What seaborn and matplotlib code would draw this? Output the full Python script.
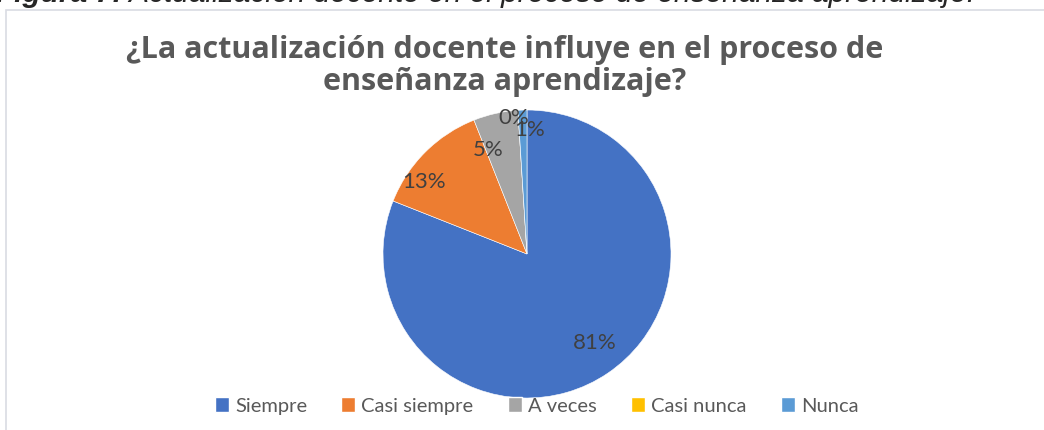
import numpy as np
import matplotlib
matplotlib.use("Agg")
import matplotlib.pyplot as plt
from matplotlib.patches import Rectangle
import seaborn as sns

# data
categories = ["Siempre", "Casi siempre", "A veces", "Casi nunca", "Nunca"]
percent = [81, 13, 5, 0, 1]
colors = ["#4472C4", "#ED7D31", "#A5A5A5", "#FFC000", "#5B9BD5"]

title = "¿La actualización docente influye en el proceso de\nenseñanza aprendizaje?"
caption_bold = "Figura 7:"
caption_rest = " Actualización docente en el proceso de enseñanza aprendizaje."

# label placement (fraction of radius, angle nudge in degrees) - "best fit" look
label_r = [0.78, 0.87, 0.77, 0.95, 0.86]
label_nudge = [3, 10, 8, 2, -3]

sns.set_theme(style="white")
plt.rcParams["font.family"] = ["Lato", "DejaVu Sans"]

fig = plt.figure(figsize=(10.44, 4.30), dpi=100)
fig.patch.set_facecolor("white")
renderer = fig.canvas.get_renderer()

# chart area border (cropped on right/bottom)
fig.patches.append(Rectangle((6 / 1044, -0.1), 1.2, 1 - 10 / 430 + 0.1,
                             transform=fig.transFigure, fill=False,
                             edgecolor="#D9DCE3", linewidth=1.2))

# partially cut caption above the chart
cap_y = 1 - 2.5 / 430
t1 = fig.text(-0.004, cap_y, caption_bold, fontsize=21.5, fontweight="bold",
              style="italic", family="Liberation Sans", va="baseline", ha="left")
bb = t1.get_window_extent(renderer)
fig.text(bb.x1 / 1044, cap_y, caption_rest, fontsize=21.5, style="italic",
         family="Liberation Sans", va="baseline", ha="left")

fig.text(0.4835, 1 - 66 / 430, title, ha="center", va="center", fontsize=22,
         fontweight="bold", color="#595959", linespacing=1.12,
         family=["Open Sans", "DejaVu Sans"])

ax = fig.add_axes([(527 - 144) / 1044, (430 - 398) / 430, 288 / 1044, 288 / 430])
wedges, _ = ax.pie(percent, colors=colors, startangle=90, counterclock=False,
                   radius=1, wedgeprops=dict(linewidth=0.4, edgecolor="white"))
ax.set_xlim(-1, 1)
ax.set_ylim(-1, 1)
ax.set_aspect("equal")
ax.axis("off")

for w, val, r, nud in zip(wedges, percent, label_r, label_nudge):
    mid = np.deg2rad((w.theta1 + w.theta2) / 2 + nud)
    ax.text(r * np.cos(mid), r * np.sin(mid), f"{val}%", ha="center", va="center",
            fontsize=16, color="#404040", clip_on=False)

handles = [Rectangle((0, 0), 1, 1, facecolor=c) for c in colors]
fig.legend(handles, categories, loc="center", bbox_to_anchor=(0.514, 1 - 406 / 430),
           ncol=5, frameon=False, fontsize=14.5, handlelength=0.7, handleheight=0.7,
           handletextpad=0.3, columnspacing=1.7, labelcolor="#595959")

fig.savefig("out.png", dpi=100, facecolor="white")
